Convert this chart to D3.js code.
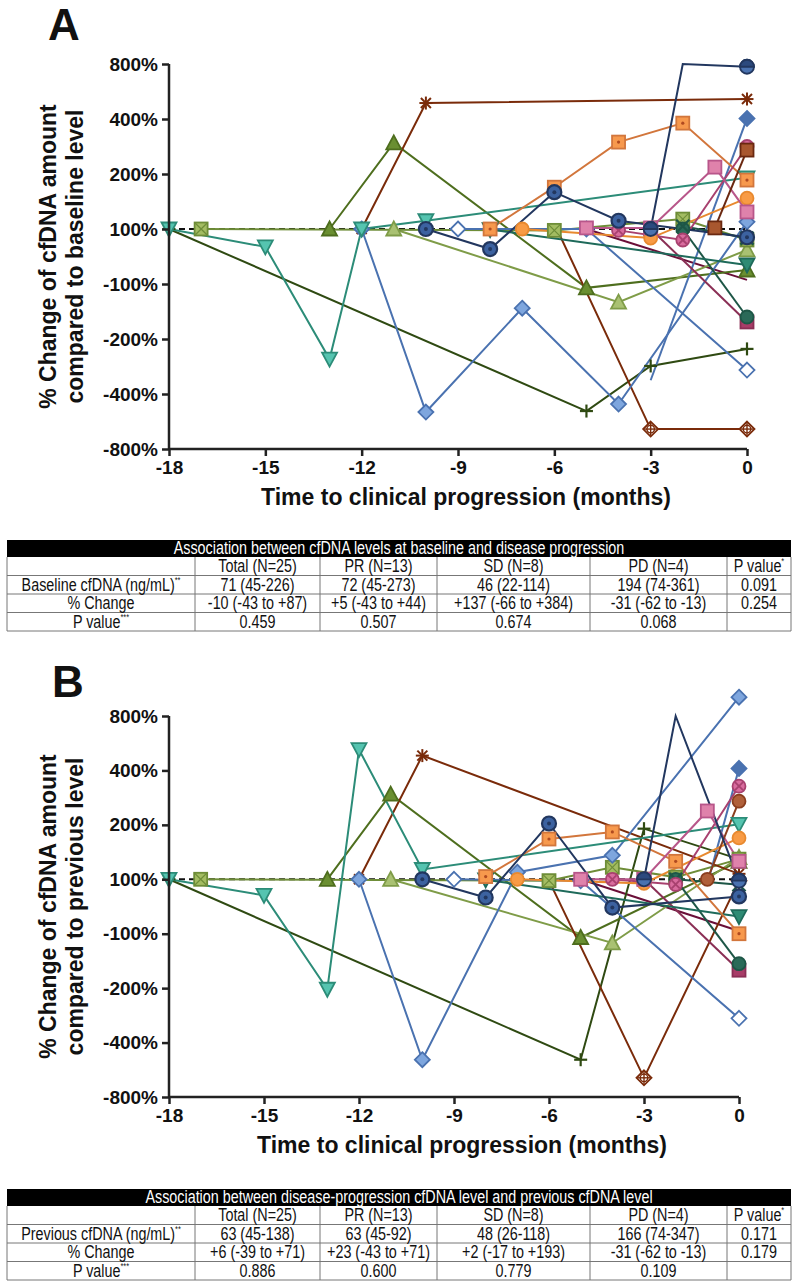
<!DOCTYPE html>
<html><head><meta charset="utf-8">
<script src="https://cdn.jsdelivr.net/npm/d3@7/dist/d3.min.js"></script>
<style>body{margin:0;background:#fff}svg{display:block}</style>
</head><body><svg id="c" width="800" height="1284"></svg>
<script>
// ---------- DATA ----------
const yTicks = [-800, -400, -200, -100, 100, 200, 400, 800];
const xTicks = [-18, -15, -12, -9, -6, -3, 0];

// Panel A: % change vs baseline  [month, value]
const seriesA = [
  {id:'maroonLine', pts:[[-5,100],[0,-85]]},
  {id:'plus',       pts:[[-18,100],[-5,-524],[-3,-298],[0,-236]]},
  {id:'triDark',    pts:[[-13,100],[-11,313],[-5,-107],[0,-49]]},
  {id:'triLight',   pts:[[-11,100],[-4,-133],[0,24]]},
  {id:'sqX',        pts:[[-17,100],[-6,95],[-2,118],[0,60]]},
  {id:'asterisk',   pts:[[-12,100],[-10,516],[0,545]]},
  {id:'dPlus',      pts:[[-6,110],[-3,-655],[0,-655]]},
  {id:'dHollow',    pts:[[-9,100],[-5,100],[0,-313]]},
  {id:'dLight',     pts:[[-12,100],[-10,-531],[-7,-144],[-4,-473],[0,113]]},
  {id:'dFill',      pts:[[-3,-350],[0,404]]},
  {id:'sqMaroon',   pts:[[-3,100],[0,-169]]},
  {id:'circTeal',   pts:[[-2,100],[0,-160]]},
  {id:'xTeal',      pts:[[-2,105],[0,67]]},
  {id:'triTealDark',pts:[[-8,98],[0,-31]]},
  {id:'tealTri',    pts:[[-18,100],[-15,35],[-13,-273],[-12,100],[-10,115],[0,193]]},
  {id:'sqDot',      pts:[[-8,100],[-6,176],[-4,316],[-2,385],[0,189]]},
  {id:'circOrange', pts:[[-7,100],[-3,67],[0,156]]},
  {id:'circX',      pts:[[-4,95],[-2,60],[0,300]]},
  {id:'sqPink',     pts:[[-5,102],[-3,102],[-1,225],[0,131]]},
  {id:'sqBrown',    pts:[[-1,102],[0,287]]},
  {id:'circDot',    pts:[[-10,100],[-8,27],[-6,167],[-4,115],[0,70]]},
  {id:'half',       pts:[[-3,100],[-2,800],[0,780]]}
];

// Panel B: % change vs previous level  [month, value]
const seriesB = [
  {id:'maroonLine', pts:[[-5,100],[0,-90]]},
  {id:'plus',       pts:[[-18,100],[-5,-526],[-3,193],[0,137]]},
  {id:'triDark',    pts:[[-13,100],[-11,313],[-5,-107],[0,133]]},
  {id:'triLight',   pts:[[-11,100],[-4,-117],[0,140]]},
  {id:'sqX',        pts:[[-17,100],[-6,95],[-4,122],[-2,104],[0,137]]},
  {id:'asterisk',   pts:[[-12,100],[-10,509],[0,110]]},
  {id:'dPlus',      pts:[[-6,95],[-3,-659],[0,95]]},
  {id:'dHollow',    pts:[[-9,100],[-5,95],[0,-311]]},
  {id:'dLight',     pts:[[-12,100],[-10,-526],[-7,113],[-4,144],[0,938]]},
  {id:'dFill',      pts:[[-1,83],[0,415]]},
  {id:'sqMaroon',   pts:[[-3,100],[0,-167]]},
  {id:'circTeal',   pts:[[-2,100],[0,-155]]},
  {id:'xTeal',      pts:[[-2,100],[0,80]]},
  {id:'triTealDark',pts:[[-8,98],[0,-37]]},
  {id:'tealTri',    pts:[[-18,100],[-15,41],[-13,-204],[-12,553],[-10,118],[0,202]]},
  {id:'sqDot',      pts:[[-8,105],[-6,174],[-4,187],[-2,133],[0,-100]]},
  {id:'circOrange', pts:[[-7,100],[-3,85],[0,176]]},
  {id:'circX',      pts:[[-4,100],[-2,81],[0,342]]},
  {id:'sqPink',     pts:[[-5,100],[-3,100],[-1,251],[0,133]]},
  {id:'circBrown',  pts:[[-1,100],[0,287]]},
  {id:'circDot',    pts:[[-10,100],[-8,33],[-6,205],[-4,-4],[0,37]]},
  {id:'half',       pts:[[-3,100],[-2,800],[0,95]]}
];

// vertices drawn without a symbol (index into pts)
const noSymbolA = {dFill:[0], dPlus:[0], half:[1]};
const noSymbolB = {dFill:[0], dPlus:[0], half:[1]};

const tableAColumns = ["", "Total (N=25)", "PR (N=13)", "SD (N=8)", "PD (N=4)", "P value"];
const tableARows = [
  ["Baseline cfDNA (ng/mL)", "71 (45-226)", "72 (45-273)", "46 (22-114)", "194 (74-361)", "0.091"],
  ["% Change", "-10 (-43 to +87)", "+5 (-43 to +44)", "+137 (-66 to +384)", "-31 (-62 to -13)", "0.254"],
  ["P value", "0.459", "0.507", "0.674", "0.068", ""]
];
const tableBColumns = ["", "Total (N=25)", "PR (N=13)", "SD (N=8)", "PD (N=4)", "P value"];
const tableBRows = [
  ["Previous cfDNA (ng/mL)", "63 (45-138)", "63 (45-92)", "48 (26-118)", "166 (74-347)", "0.171"],
  ["% Change", "+6 (-39 to +71)", "+23 (-43 to +71)", "+2 (-17 to +193)", "-31 (-62 to -13)", "0.179"],
  ["P value", "0.886", "0.600", "0.779", "0.109", ""]
];

// ---------- STYLES ----------
const styles = {
  maroonLine: {m:'none', stroke:'#6A0F38', fill:'none'},
  plus:       {m:'plus', stroke:'#2F4A12', fill:'none'},
  triDark:    {m:'triUp', stroke:'#4E6E1E', fill:'#6A8F31'},
  triLight:   {m:'triUp', stroke:'#7F9C48', fill:'#A9C172'},
  sqX:        {m:'sqX', stroke:'#6E8D38', fill:'#A3BC62'},
  asterisk:   {m:'asterisk', stroke:'#7A2B0A', fill:'none'},
  dPlus:      {m:'dPlus', stroke:'#7A2B0A', fill:'#fff'},
  dHollow:    {m:'diamond', stroke:'#4A72B0', fill:'#fff'},
  dLight:     {m:'diamond', stroke:'#4A72B0', fill:'#7EA6DE'},
  dFill:      {m:'diamond', stroke:'#4A72B0', fill:'#4A72B0'},
  sqMaroon:   {m:'square', stroke:'#8A2F55', fill:'#A83D68'},
  circTeal:   {m:'circle', stroke:'#1D5646', fill:'#2A6A58'},
  xTeal:      {m:'x', stroke:'#1D5646', fill:'none'},
  triTealDark:{m:'triDown', stroke:'#1E6A5A', fill:'#2E8B74'},
  tealTri:    {m:'triDown', stroke:'#2C8C78', fill:'#55C4B0'},
  sqDot:      {m:'sqDot', stroke:'#D2763C', fill:'#F7994D'},
  circOrange: {m:'circle', stroke:'#E8892F', fill:'#F89B45'},
  circX:      {m:'circX', stroke:'#A8416F', fill:'#D96C9E'},
  sqPink:     {m:'square', stroke:'#B8568A', fill:'#DF82AB'},
  sqBrown:    {m:'square', stroke:'#6A2810', fill:'#A8572F'},
  circBrown:  {m:'circle', stroke:'#8A3E1E', fill:'#B0603A'},
  circDot:    {m:'circDot', stroke:'#22375F', fill:'#3C62A0'},
  half:       {m:'half', stroke:'#22375F', fill:'#2C4A7E'}
};

const svg = d3.select('#c');
const FONT = 'Liberation Sans, Arial, Helvetica, sans-serif';

function drawMarker(g, type, cx, cy, st) {
  const s = 6.5;
  const sw = 1.8;
  const gg = g.append('g').attr('transform', `translate(${cx},${cy})`);
  const line = (x1,y1,x2,y2,c,w) => gg.append('line').attr('x1',x1).attr('y1',y1).attr('x2',x2).attr('y2',y2)
      .attr('stroke', c||st.stroke).attr('stroke-width', w||sw);
  switch(type) {
    case 'circle':
      gg.append('circle').attr('r', s).attr('fill', st.fill).attr('stroke', st.stroke).attr('stroke-width', sw); break;
    case 'circDot':
      gg.append('circle').attr('r', s+0.5).attr('fill', st.fill).attr('stroke', st.stroke).attr('stroke-width', 2.2);
      gg.append('circle').attr('r', 2).attr('fill', st.stroke); break;
    case 'circX':
      gg.append('circle').attr('r', s).attr('fill', st.fill).attr('stroke', st.stroke).attr('stroke-width', sw);
      line(-4,-4,4,4); line(-4,4,4,-4); break;
    case 'half':
      gg.append('circle').attr('r', s+0.5).attr('fill', '#4A72B0').attr('stroke', st.stroke).attr('stroke-width', sw);
      gg.append('path').attr('d', d3.arc()({innerRadius:0, outerRadius:s+0.5, startAngle:-Math.PI/2, endAngle:Math.PI/2}))
        .attr('fill', st.fill).attr('stroke', st.stroke).attr('stroke-width', sw); break;
    case 'square':
      gg.append('rect').attr('x',-s).attr('y',-s).attr('width',2*s).attr('height',2*s)
        .attr('fill', st.fill).attr('stroke', st.stroke).attr('stroke-width', sw); break;
    case 'sqDot':
      gg.append('rect').attr('x',-s).attr('y',-s).attr('width',2*s).attr('height',2*s)
        .attr('fill', st.fill).attr('stroke', st.stroke).attr('stroke-width', sw);
      gg.append('circle').attr('r',1.6).attr('fill','#B04A20'); break;
    case 'sqX':
      gg.append('rect').attr('x',-s).attr('y',-s).attr('width',2*s).attr('height',2*s)
        .attr('fill', st.fill).attr('stroke', st.stroke).attr('stroke-width', sw);
      line(-s,-s,s,s,null,1.2); line(-s,s,s,-s,null,1.2); break;
    case 'triUp':
      gg.append('path').attr('d', `M0,${-s-1}L${s+1},${s}L${-s-1},${s}Z`)
        .attr('fill', st.fill).attr('stroke', st.stroke).attr('stroke-width', sw); break;
    case 'triDown':
      gg.append('path').attr('d', `M0,${s+1}L${s+1},${-s}L${-s-1},${-s}Z`)
        .attr('fill', st.fill).attr('stroke', st.stroke).attr('stroke-width', sw); break;
    case 'diamond':
      gg.append('path').attr('d', `M0,${-s-1}L${s+1},0L0,${s+1}L${-s-1},0Z`)
        .attr('fill', st.fill).attr('stroke', st.stroke).attr('stroke-width', sw); break;
    case 'dPlus':
      gg.append('path').attr('d', `M0,${-s-1}L${s+1},0L0,${s+1}L${-s-1},0Z`)
        .attr('fill', st.fill).attr('stroke', st.stroke).attr('stroke-width', sw);
      gg.append('circle').attr('r', 3.8).attr('fill','none').attr('stroke', st.stroke).attr('stroke-width', 1.4);
      line(-s,0,s,0,null,1.4); line(0,-s,0,s,null,1.4); break;
    case 'asterisk':
      line(-s,0,s,0,null,2); line(0,-s,0,s,null,2);
      line(-5,-5,5,5,null,2); line(-5,5,5,-5,null,2); break;
    case 'plus':
      line(-s,0,s,0,null,2.2); line(0,-s,0,s,null,2.2); break;
    case 'x':
      line(-s,-s,s,s,null,2.4); line(-s,s,s,-s,null,2.4); break;
  }
}

function drawPanel(cfg) {
  const {top, bottom, left, right, data, noSym, letter, letterX, letterY, yLines} = cfg;
  const x = d3.scaleLinear().domain([-18, 0]).range([left, right]);
  const step = (bottom - top) / (yTicks.length - 1);
  const y = d3.scaleLinear().domain(yTicks).range(yTicks.map((d,i) => bottom - i*step));
  const g = svg.append('g');

  g.append('text').attr('x', letterX).attr('y', letterY).text(letter)
    .attr('font-family', FONT).attr('font-weight', 'bold').attr('font-size', 44).attr('fill', '#111');

  const yt = g.append('g').attr('transform', `translate(0,${(top+bottom)/2}) rotate(-90)`);
  yLines.forEach((t, i) => {
    yt.append('text').attr('x', 0).attr('y', 56 + i*27).attr('text-anchor','middle').text(t)
      .attr('font-family', FONT).attr('font-weight','bold').attr('font-size', 23).attr('fill','#111');
  });

  g.append('text').attr('x', (left+right)/2 + 8).attr('y', bottom + 56).attr('text-anchor','middle')
    .text('Time to clinical progression (months)')
    .attr('font-family', FONT).attr('font-weight','bold').attr('font-size', 23).attr('fill','#111');

  g.append('line').attr('x1', x(-18)).attr('x2', x(0)).attr('y1', y(100)).attr('y2', y(100))
    .attr('stroke', '#111').attr('stroke-width', 2).attr('stroke-dasharray', '6,4');

  const lineGen = d3.line().x(d => x(d[0])).y(d => y(d[1]));
  data.forEach(s => {
    const st = styles[s.id];
    g.append('path').attr('d', lineGen(s.pts)).attr('fill','none')
      .attr('stroke', st.stroke).attr('stroke-width', 2);
  });
  data.forEach(s => {
    const st = styles[s.id];
    const skip = noSym[s.id] || [];
    s.pts.forEach((p, i) => {
      if (skip.includes(i)) return;
      drawMarker(g, st.m, x(p[0]), y(p[1]), st);
    });
  });

  const ya = g.append('g').attr('transform', `translate(${left},0)`)
    .call(d3.axisLeft(y).tickValues(yTicks).tickFormat(d => d + '%').tickSize(7).tickPadding(4));
  const xa = g.append('g').attr('transform', `translate(0,${bottom})`)
    .call(d3.axisBottom(x).tickValues(xTicks).tickFormat(d => d).tickSize(7).tickPadding(5));
  [ya, xa].forEach(a => {
    a.select('.domain').attr('stroke', '#222').attr('stroke-width', 2.5);
    a.selectAll('.tick line').attr('stroke', '#222').attr('stroke-width', 2.5);
    a.selectAll('.tick text').attr('font-family', FONT).attr('font-weight','bold')
      .attr('font-size', 19).attr('fill', '#111');
  });
  ya.select('.domain').attr('d', `M0,${top}V${bottom}`);
  xa.select('.domain').attr('d', `M${left},0H${right}`);
}

drawPanel({top:64, bottom:449, left:169, right:747, data:seriesA, noSym:noSymbolA, letter:'A', letterX:48, letterY:40,
  yLines:['% Change of cfDNA amount', 'compared to baseline level']});
drawPanel({top:716, bottom:1097, left:169, right:739, data:seriesB, noSym:noSymbolB, letter:'B', letterX:52, letterY:697,
  yLines:['% Change of cfDNA amount', 'compared to previous level']});

// ---------- TABLES ----------
const TFONT = 'Liberation Sans, Arial, sans-serif';
const SX = 0.82; // condensed look
const colEdges = [7, 195, 320, 437, 590, 727, 791];
function condensedText(g, cx, cy, size, color) {
  return g.append('text').attr('transform', `translate(${cx},${cy}) scale(${SX},1)`)
    .attr('x', 0).attr('y', 0).attr('text-anchor','middle')
    .attr('font-family', TFONT).attr('font-size', size).attr('fill', color);
}
function drawTable(top, title, cols, rows) {
  const g = svg.append('g');
  const hH = 17, rH = 18.5;
  const L = colEdges[0], R = colEdges[colEdges.length-1];
  g.append('rect').attr('x', L).attr('y', top).attr('width', R-L).attr('height', hH).attr('fill', '#000');
  condensedText(g, (L+R)/2, top + 14, 17.5, '#fff').text(title);
  const allRows = [cols].concat(rows);
  const bodyTop = top + hH;
  const bodyH = rH * allRows.length;
  allRows.forEach((r, i) => {
    g.append('line').attr('x1', L).attr('x2', R).attr('y1', bodyTop + (i+1)*rH).attr('y2', bodyTop + (i+1)*rH)
      .attr('stroke', '#777').attr('stroke-width', 1);
  });
  colEdges.forEach(xe => {
    g.append('line').attr('x1', xe).attr('x2', xe).attr('y1', bodyTop).attr('y2', bodyTop + bodyH)
      .attr('stroke', '#777').attr('stroke-width', 1);
  });
  allRows.forEach((r, i) => {
    r.forEach((cell, j) => {
      if (!cell) return;
      const cx = (colEdges[j] + colEdges[j+1]) / 2;
      const t = condensedText(g, cx, bodyTop + i*rH + 15, 17.5, '#111');
      t.append('tspan').text(cell);
      let sup = '';
      if (i === 0 && j === 5) sup = '*';
      if (i === 1 && j === 0) sup = '**';
      if (i === 3 && j === 0) sup = '***';
      if (sup) t.append('tspan').attr('font-size', 9).attr('dy', -8).text(sup);
    });
  });
}
drawTable(540, 'Association between cfDNA levels at baseline and disease progression', tableAColumns, tableARows);
drawTable(1189, 'Association between disease-progression cfDNA level and previous cfDNA level', tableBColumns, tableBRows);
</script>
</body></html>
